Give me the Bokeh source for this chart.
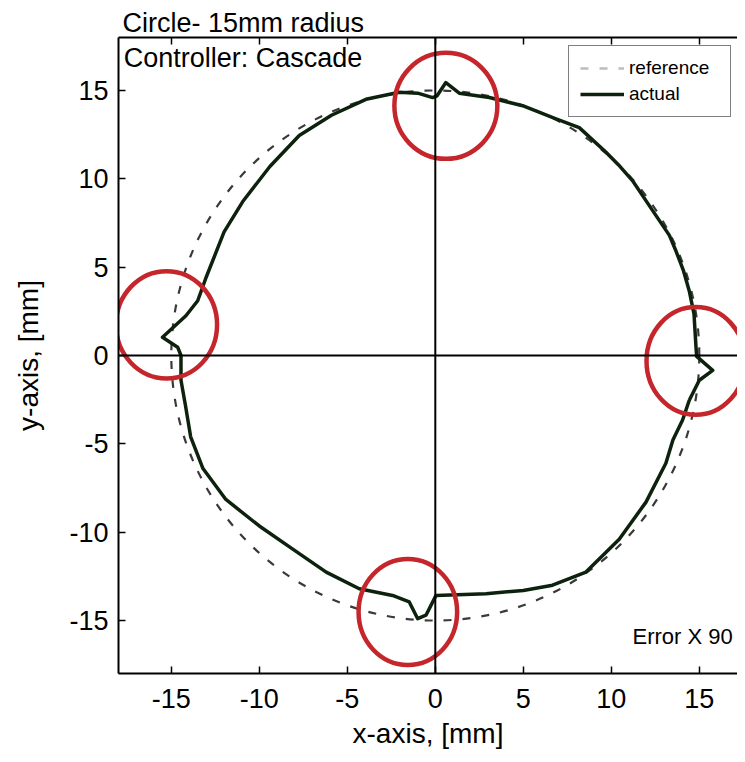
from bokeh.plotting import figure
from bokeh.models import Range1d, LinearAxis, FixedTicker, Span, Label, Legend, LegendItem, Title
from bokeh.embed import file_html
from bokeh.resources import INLINE

# ---- data ----
ticks = [-15, -10, -5, 0, 5, 10, 15]

actual_x = [14.43, 15.0, 15.76, 14.85, 14.81, 14.75, 14.7, 14.43, 14.1, 13.68, 13.3, 12.35,
            11.2, 10.4, 9.7, 8.18, 6.86, 4.96, 3.07, 1.36, 0.6, 0.1, -0.15, -1.0, -2.05,
            -3.94, -5.9, -7.73, -9.4, -10.95, -12.0, -13.03, -13.5, -14.17, -15.5, -14.64,
            -14.45, -14.45, -14.2, -13.9, -13.2, -11.9, -10.0, -8.1, -6.2, -4.32, -2.43,
            -1.48, -1.0, -0.53, 0.04, 2.88, 5.0, 6.66, 8.56, 10.45, 11.97, 13.1, 13.5,
            14.05, 14.43]
actual_y = [-2.53, -1.4, -0.84, -0.05, 0.5, 1.5, 2.34, 3.65, 4.8, 5.9, 6.8, 8.2,
            9.9, 10.8, 11.5, 12.9, 13.39, 14.14, 14.6, 14.85, 15.45, 14.7, 14.6, 14.85, 14.9,
            14.5, 13.6, 12.45, 10.7, 8.7, 7.0, 4.4, 3.1, 2.25, 1.03, 0.47,
            0.0, -1.4, -2.8, -4.6, -6.4, -8.15, -9.65, -10.96, -12.26, -13.2, -13.58,
            -13.95, -14.9, -14.7, -13.58, -13.48, -13.3, -13.0, -12.26, -10.4, -8.3, -6.1, -4.78,
            -3.65, -2.53]

ref_center = [0.0]
ref_diameter = [30.0]

mark_x = [0.6, -15.27, 14.8, -1.56]
mark_y = [14.13, 1.74, -0.31, -14.52]
mark_w = [5.85, 5.74, 5.6, 5.6]
mark_h = [6.0, 6.07, 6.1, 6.0]

FONT = "Liberation Sans"
tick_text = {t: str(t) for t in ticks}

p = figure(width=737, height=754, x_range=Range1d(-18, 17.17), y_range=Range1d(-18, 18),
           output_backend="svg", toolbar_location=None,
           min_border_left=118, min_border_right=0, min_border_top=37, min_border_bottom=81)
p.outline_line_color = None
p.grid.visible = False
p.background_fill_color = "white"

for ax in (p.xaxis[0], p.yaxis[0]):
    ax.ticker = FixedTicker(ticks=ticks)
    ax.major_label_overrides = tick_text
    ax.major_tick_in = 7
    ax.major_tick_out = 0
    ax.minor_tick_line_color = None
    ax.axis_line_width = 2
    ax.axis_line_color = "black"
    ax.major_tick_line_width = 1.5
    ax.major_label_text_font = FONT
    ax.major_label_text_font_size = "27px"
    ax.major_label_text_color = "black"
    ax.axis_label_text_font = FONT
    ax.axis_label_text_font_size = "28px"
    ax.axis_label_text_font_style = "normal"
    ax.axis_label_text_color = "black"

p.xaxis.axis_label = "x-axis, [mm]"
p.yaxis.axis_label = "y-axis, [mm]"
p.xaxis.major_label_standoff = 15
p.yaxis.major_label_standoff = 10
p.xaxis.axis_label_standoff = 7
p.yaxis.axis_label_standoff = 22

top = LinearAxis(ticker=FixedTicker(ticks=ticks), major_tick_in=7, major_tick_out=0,
                 minor_tick_line_color=None, axis_line_width=2, major_tick_line_width=1.5,
                 major_label_overrides={t: "" for t in ticks},
                 major_label_text_font_size="1px", major_label_standoff=0)
p.add_layout(top, "above")
p.add_layout(Title(text="Circle- 15mm radius", align="left", offset=4, standoff=0,
                   text_font=FONT, text_font_size="27px", text_font_style="normal",
                   text_color="black"), "above")

p.add_layout(Span(location=0, dimension="height", line_color="black", line_width=2))
p.add_layout(Span(location=0, dimension="width", line_color="black", line_width=2))

# reference circle (radius 15)
p.ellipse(x=ref_center, y=ref_center, width=ref_diameter, height=ref_diameter,
          fill_color=None, line_color="#3a3a3a", line_width=2.2, line_dash="8 11")

# actual trajectory
r_act = p.line(actual_x, actual_y, line_color="#0d220d", line_width=3.5, line_join="round")

# legend stand-in for the dashed reference (single point: draws nothing in the plot)
r_ref = p.line(ref_center, ref_center, line_color="#bdbdbd", line_width=2.5, line_dash="8 11")

# highlight marks
p.ellipse(x=mark_x, y=mark_y, width=mark_w, height=mark_h, fill_color=None,
          line_color="#c4262b", line_width=4.5)

legend = Legend(items=[LegendItem(label="reference", renderers=[r_ref]),
                       LegendItem(label="actual", renderers=[r_act])],
                location=(450, 556), border_line_color="black", border_line_width=1.5,
                label_text_font=FONT, label_text_font_size="19px", label_text_color="black",
                glyph_width=44, glyph_height=22, label_height=22, label_width=90,
                spacing=4, padding=11, margin=0, background_fill_alpha=1.0)
p.add_layout(legend)

p.add_layout(Label(x=-17.7, y=18, y_offset=-5, text="Controller: Cascade", text_font=FONT,
                   text_font_size="27px", text_baseline="top", text_color="black"))
p.add_layout(Label(x=16.9, y=-16.6, text="Error X 90", text_font=FONT,
                   text_font_size="22px", text_align="right", text_baseline="bottom",
                   text_color="black"))

open("out.html", "w").write(file_html(p, INLINE))
